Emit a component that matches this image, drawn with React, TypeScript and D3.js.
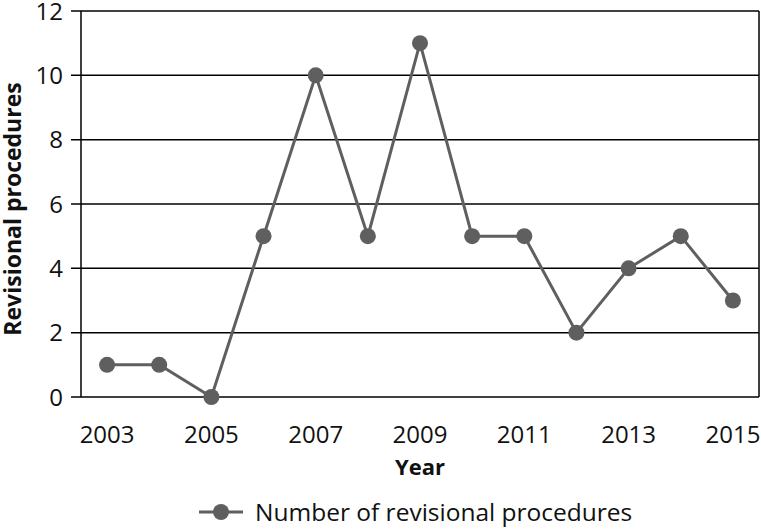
import React from "react";
import * as d3 from "d3";

const years = ["2003","2004","2005","2006","2007","2008","2009","2010","2011","2012","2013","2014","2015"];
const values = [1,1,0,5,10,5,11,5,5,2,4,5,3];
const yTicks = [0,2,4,6,8,10,12];
const xLabels = ["2003","2005","2007","2009","2011","2013","2015"];
const seriesName = "Number of revisional procedures";

export default function App() {
  const W = 761, H = 529;
  const left = 81, right = 759, top = 11, bottom = 397;
  const x = d3.scaleBand().domain(years).range([left, right]);
  const y = d3.scaleLinear().domain([0, 12]).range([bottom, top]);
  const cx = (yr: string) => (x(yr) as number) + x.bandwidth() / 2;
  const line = d3.line<number>().x((_, i) => cx(years[i])).y(d => y(d));
  const color = "#5f5f5f";
  const font = "'Open Sans', 'Noto Sans', sans-serif";
  return (
    <svg width={W} height={H} style={{ position: "absolute", left: 0, top: 0 }} fontFamily={font}>
      <rect width={W} height={H} fill="#fff" />
      {yTicks.map(t => (
        <g key={t}>
          <line x1={left - 10} x2={right} y1={y(t)} y2={y(t)} stroke="#000" strokeWidth={1.5} />
          <text x={left - 18} y={y(t)} dy="0.36em" textAnchor="end" fontSize={24} fill="#111">{t}</text>
        </g>
      ))}
      <line x1={left} x2={left} y1={top} y2={bottom} stroke="#000" strokeWidth={1.5} />
      <line x1={right} x2={right} y1={top} y2={bottom} stroke="#000" strokeWidth={1.5} />
      {xLabels.map(l => (
        <text key={l} x={cx(l)} y={443} textAnchor="middle" fontSize={24} fill="#111">{l}</text>
      ))}
      <path d={line(values) || ""} fill="none" stroke={color} strokeWidth={3} />
      {values.map((v, i) => (
        <circle key={i} cx={cx(years[i])} cy={y(v)} r={8} fill={color} />
      ))}
      <text x={(left + right) / 2} y={475} textAnchor="middle" fontSize={22} fontWeight="bold" fill="#111">Year</text>
      <text transform={`translate(21, ${(top + bottom) / 2 + 5}) rotate(-90)`} textAnchor="middle" fontSize={23} fontWeight="bold" fill="#111">Revisional procedures</text>
      <line x1={199} x2={243} y1={512} y2={512} stroke={color} strokeWidth={3} />
      <circle cx={221} cy={512} r={8} fill={color} />
      <text x={255} y={521} fontSize={24.5} fill="#111">{seriesName}</text>
    </svg>
  );
}
